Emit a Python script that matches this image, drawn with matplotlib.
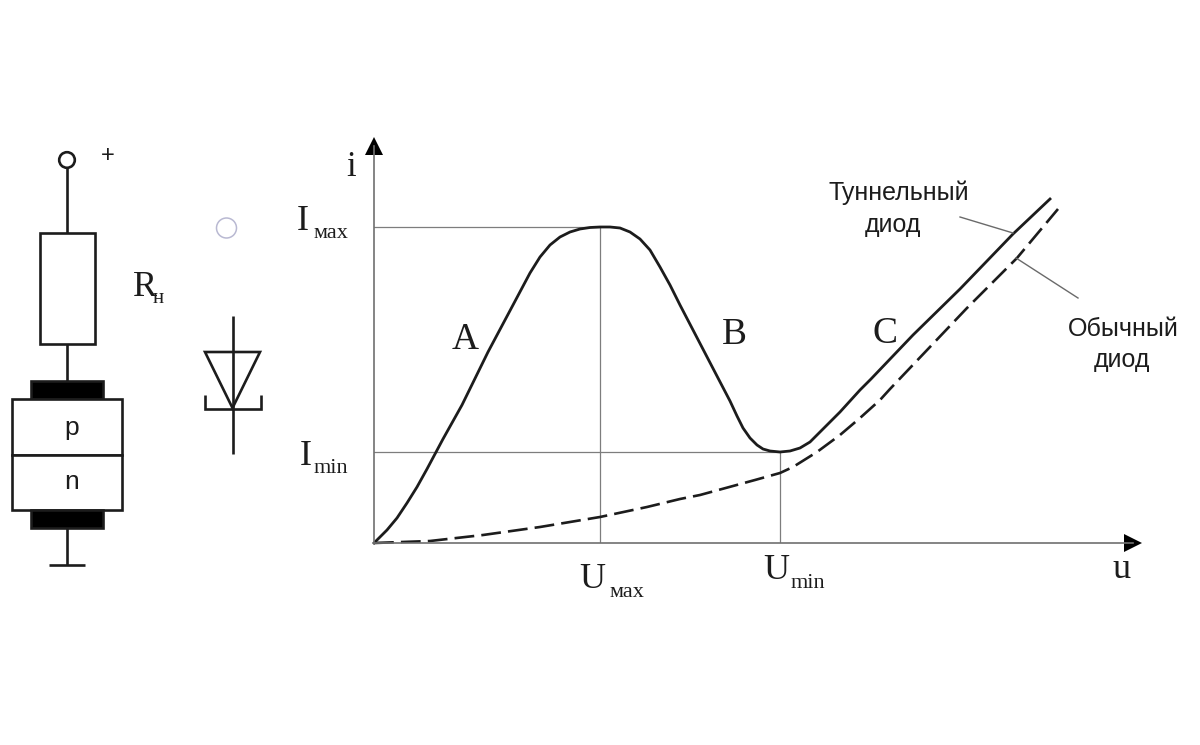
import matplotlib
matplotlib.use("Agg")
import matplotlib.pyplot as plt
from matplotlib.patches import Circle, Polygon, Rectangle

SERIF = "Liberation Serif"
SANS = "Liberation Sans"
INK = "#1c1c1c"
GUIDE = "#7d7d7d"

# chart origin and extent on the canvas
X0, Y0 = 374, 543
U_END, I_END = 759, 397

tunnel_u = [0, 13, 23, 33, 43, 53, 61, 69, 88, 114, 139, 156, 166, 176, 186, 196, 206, 216,
            226, 236, 246, 256, 266, 276, 286, 296, 306, 344, 356, 363, 369, 376, 383, 389,
            396, 406, 416, 426, 436, 446, 456, 466, 476, 486, 497, 539, 586, 639, 676]
tunnel_i = [0, 13, 25, 40, 56, 74, 89, 104, 138, 191, 238, 270, 286, 298, 306, 311, 314, 315.5,
            316, 316, 315, 311, 304, 293, 276, 258, 238, 165, 142, 127, 115, 105, 98, 94,
            92, 91, 92, 95, 101, 111, 121, 131, 142, 153, 164, 208, 254, 309, 344]

diode_u = [0, 56, 109, 166, 226, 273, 306, 326, 381, 406, 419, 443, 466, 486, 506, 516, 593, 643, 684]
diode_i = [0, 2, 8, 16, 26, 36, 44, 48, 63, 70, 76, 91, 108, 125, 143, 154, 235, 285, 334]

u_max, u_min = 226, 406
i_max, i_min = 316, 91

fig = plt.figure(figsize=(12, 7.45), dpi=100)

# schematic part is laid out on the canvas itself
cv = fig.add_axes([0, 0, 1, 1])
cv.set_xlim(0, 1200)
cv.set_ylim(745, 0)
cv.axis("off")


def seg(x, y, lw=1.9, color=INK):
    cv.plot(x, y, color=color, lw=lw, solid_capstyle="butt", solid_joinstyle="miter")


def box(x, y, w, h, fill="white"):
    cv.add_patch(Rectangle((x, y), w, h, fc=fill, ec=INK, lw=1.9, zorder=3))


seg([67, 67], [168, 233])
cv.add_patch(Circle((67, 160), 7.8, fc="white", ec=INK, lw=1.9))
cv.text(108, 156, "+", family=SANS, fontsize=17, color=INK, ha="center", va="center")
box(40, 233, 55, 111)
seg([67, 67], [344, 381])
box(31, 381, 72, 18, fill="black")
box(12, 399, 110, 56)
box(12, 455, 110, 55)
box(31, 510, 72, 18, fill="black")
seg([67, 67], [528, 565])
seg([49, 85], [565, 565])
cv.text(72, 428, "p", family=SANS, fontsize=19, color=INK, ha="center", va="center", zorder=5)
cv.text(72, 482, "n", family=SANS, fontsize=19, color=INK, ha="center", va="center", zorder=5)
cv.text(133, 296, "R", family=SERIF, fontsize=26, color=INK, ha="left", va="baseline")
cv.text(153, 303, "н", family=SERIF, fontsize=15, color=INK, ha="left", va="baseline")

cv.add_patch(Circle((226.5, 228), 10, fc="white", ec="#b9b9d2", lw=1.1))

seg([232.5, 232.5], [316, 454])
cv.add_patch(Polygon([(205, 352), (260, 352), (232.5, 408)], fc="none", ec=INK, lw=1.9))
seg([205, 205, 260.5, 260.5], [395, 409, 409, 395])

# chart part, in its own axes with the origin on the arrow corner
ax = fig.add_axes([X0 / 1200, 1 - Y0 / 745, U_END / 1200, I_END / 745])
ax.set_xlim(0, U_END)
ax.set_ylim(0, I_END)
ax.patch.set_alpha(0)
ax.set_xticks([])
ax.set_yticks([])
for side in ("top", "right"):
    ax.spines[side].set_visible(False)
for side in ("left", "bottom"):
    ax.spines[side].set_color("#707070")
    ax.spines[side].set_linewidth(1.2)

ax.plot([0, u_max], [i_max, i_max], color=GUIDE, lw=0.9)
ax.plot([0, u_min], [i_min, i_min], color=GUIDE, lw=0.9)
ax.plot([u_max, u_max], [0, i_max], color=GUIDE, lw=0.9)
ax.plot([u_min, u_min], [0, i_min], color=GUIDE, lw=0.9)

ax.plot(tunnel_u, tunnel_i, color=INK, lw=2.0, clip_on=False, solid_joinstyle="round")
ax.plot(diode_u, diode_i, color=INK, lw=1.9, clip_on=False, dashes=(7.5, 2.7))

ax.plot(1, 0, marker=">", color="black", ms=12.5, mew=0, transform=ax.transAxes, clip_on=False)
ax.plot(0, 1, marker="^", color="black", ms=12.5, mew=0, transform=ax.transAxes, clip_on=False)

# leader lines for the two curve names
ax.plot([586, 639], [326, 310], color="#6a6a6a", lw=1.0, clip_on=False)
ax.plot([642, 704], [285, 245], color="#6a6a6a", lw=1.0, clip_on=False)


def cv_text(x, y, s, family=SERIF, size=26, ha="left"):
    cv.text(x, y, s, family=family, fontsize=size, color=INK, ha=ha, va="baseline", zorder=5)


cv_text(346, 176, "i", size=25)
cv_text(297, 230, "I")
cv_text(313, 238, "мах", size=16)
cv_text(300, 465, "I")
cv_text(314, 473, "min", size=16)
cv_text(579, 588, "U")
cv_text(609, 597, "мах", size=16)
cv_text(763, 579, "U")
cv_text(791, 588, "min", size=16)
cv_text(1112, 578, "u", size=26)
cv_text(452, 349, "A", size=27)
cv_text(722, 344, "B", size=27)
cv_text(873, 343, "C", size=27)

cv_text(899, 200, "Туннельный", family=SANS, size=18, ha="center")
cv_text(893, 232, "диод", family=SANS, size=18, ha="center")
cv_text(1123, 336, "Обычный", family=SANS, size=18, ha="center")
cv_text(1122, 367, "диод", family=SANS, size=18, ha="center")

fig.savefig("out.png", dpi=100, facecolor="white")
